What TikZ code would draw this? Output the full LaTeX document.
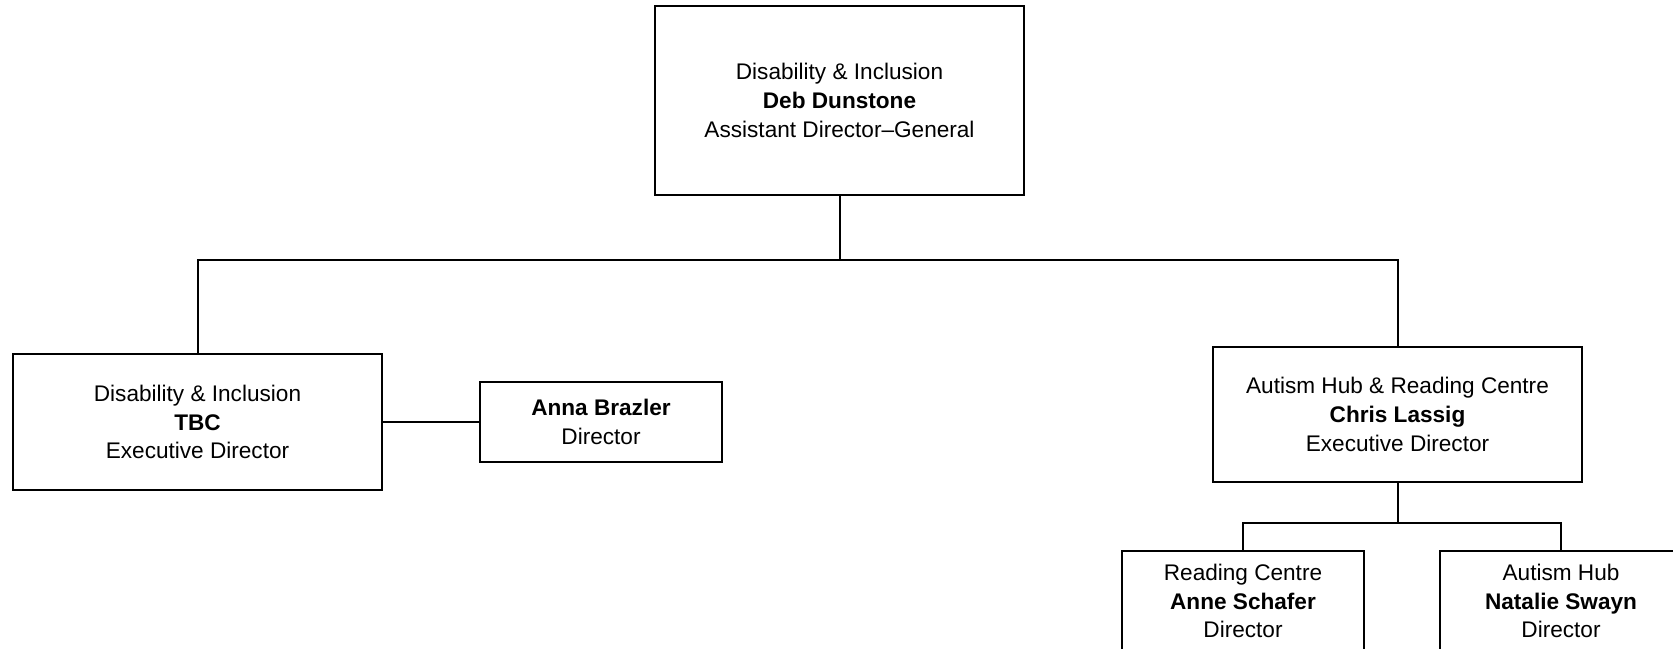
\documentclass[tikz,border=0pt]{standalone}
\usepackage{fontspec}
\setmainfont{Liberation Sans}
\usepackage{tikz}
\usetikzlibrary{positioning}
\tikzset{%
	every unit/.style={
		draw,
		line width=1pt,
		align=center,
		inner sep=0pt,
		font=\fontsize{11.3}{14.3}\selectfont
	},
	wide unit/.style={
		every unit,
		minimum width=184.5pt
	},
	narrow unit/.style={
		every unit,
		minimum width=121pt
	},
	link/.style={
		line width=1pt
	},
}

\begin{document}
\begin{tikzpicture}[x=0.5pt, y=-0.5pt]
	% Define the heights of the two connector rails
	\newcommand{\busY}{259.5}
	\newcommand{\subBusY}{523}
	
	% Fix the page to the size of the chart
	\useasboundingbox (0,0) rectangle (1673,648);
	\clip (0,0) rectangle (1673,648);
	
	% Boxes
	\node[wide unit, minimum height=94.5pt] (adg) at (839.5,100.5) {Disability \& Inclusion\\\textbf{Deb Dunstone}\\Assistant Director--General};
	\node[wide unit, minimum height=68pt] (tbc) at (197.5,422) {Disability \& Inclusion\\\textbf{TBC}\\Executive Director};
	\node[narrow unit, minimum height=40pt] (anna) at (601,422) {\textbf{Anna Brazler}\\Director};
	\node[wide unit, minimum height=67.5pt] (chris) at (1397.5,414.5) {Autism Hub \& Reading Centre\\\textbf{Chris Lassig}\\Executive Director};
	\node[narrow unit, minimum height=50pt] (reading) at (1243,601) {Reading Centre\\\textbf{Anne Schafer}\\Director};
	\node[narrow unit, minimum height=50pt] (autism) at (1561,601) {Autism Hub\\\textbf{Natalie Swayn}\\Director};
	
	% Rails
	\coordinate (bus) at (0,\busY);
	\coordinate (subbus) at (0,\subBusY);
	
	% Connectors
	\foreach \unit in {tbc,chris} {
		\draw[link] (adg.south) -- (adg.south |- bus) -| (\unit.north);
	}
	\draw[link] (tbc.east) -- (anna.west);
	\foreach \unit in {reading,autism} {
		\draw[link] (chris.south) -- (chris.south |- subbus) -| (\unit.north);
	}
\end{tikzpicture}
\end{document}
